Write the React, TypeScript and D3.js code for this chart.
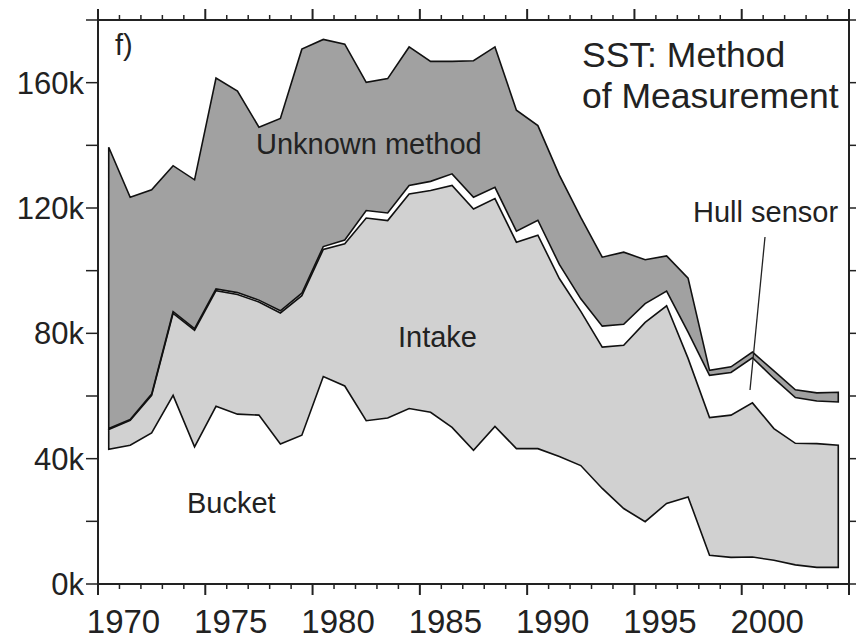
import React from 'react';
import * as d3 from 'd3';

// Years (each value plotted at the middle of its year)
const years = [1970, 1971, 1972, 1973, 1974, 1975, 1976, 1977, 1978, 1979, 1980, 1981, 1982, 1983, 1984, 1985, 1986, 1987, 1988, 1989, 1990, 1991, 1992, 1993, 1994, 1995, 1996, 1997, 1998, 1999, 2000, 2001, 2002, 2003, 2004];

// Number of observations (thousands) by method
const bucket = [43.0, 44.3, 48.2, 60.2, 43.8, 56.7, 54.2, 53.9, 44.7, 47.5, 66.2, 63.2, 52.1, 53.0, 56.0, 54.8, 50.0, 42.7, 50.3, 43.2, 43.2, 40.7, 37.8, 30.5, 24.1, 19.9, 25.7, 27.8, 9.2, 8.5, 8.6, 7.6, 6.1, 5.3, 5.3];
const intake = [6.3, 7.9, 12.0, 26.2, 37.2, 36.9, 38.2, 36.1, 41.8, 44.5, 40.6, 45.4, 64.7, 63.0, 68.5, 70.8, 77.2, 77.0, 72.7, 65.9, 68.1, 56.8, 49.2, 45.1, 52.1, 63.6, 63.1, 44.2, 43.9, 45.4, 49.2, 42.0, 38.8, 39.5, 39.0];
const hull = [0.3, 0.3, 0.4, 0.5, 0.5, 0.6, 0.6, 0.6, 0.7, 0.8, 0.9, 1.2, 2.4, 2.4, 2.7, 2.9, 3.7, 3.7, 3.6, 3.5, 4.8, 4.5, 4.0, 6.7, 6.7, 6.0, 4.7, 8.4, 13.5, 13.6, 14.4, 16.0, 14.6, 13.6, 13.8];
const unknown = [89.8, 70.9, 65.2, 46.6, 47.5, 67.3, 64.3, 55.2, 61.4, 77.9, 66.1, 62.5, 40.9, 42.9, 44.2, 38.3, 35.9, 43.6, 44.8, 38.6, 30.2, 28.5, 26.0, 22.0, 23.0, 14.0, 11.2, 17.2, 1.6, 1.8, 1.8, 2.4, 2.5, 2.6, 3.1];

const yTickLabels = [0, 40, 80, 120, 160];
const yTicksAll = [0, 20, 40, 60, 80, 100, 120, 140, 160, 180];
const xTickLabels = [1970, 1975, 1980, 1985, 1990, 1995, 2000];

const FONT = "'Liberation Sans', Arial, Helvetica, sans-serif";

export default function App() {
  const W = 856, H = 639;
  const left = 98, right = 849, top = 20, bottom = 584;
  const x = d3.scaleLinear().domain([1970, 2005]).range([left, right]);
  const y = d3.scaleLinear().domain([0, 180]).range([bottom, top]);

  const rows = years.map((yr, i) => ({ year: yr, bucket: bucket[i], intake: intake[i], hull: hull[i], unknown: unknown[i] }));
  const keys = ['bucket', 'intake', 'hull', 'unknown'];
  const series = d3.stack<any>().keys(keys)(rows);
  const area = d3.area<any>()
    .x((d: any) => x(d.data.year + 0.5))
    .y0((d: any) => y(d[0]))
    .y1((d: any) => y(d[1]));

  const fills: Record<string, string> = { bucket: '#ffffff', intake: '#d1d1d1', hull: '#ffffff', unknown: '#a1a1a1' };
  const stroked: Record<string, boolean> = { bucket: false, intake: true, hull: false, unknown: true };

  const minorYears = d3.range(1970, 2006);

  return (
    <svg width={W} height={H} style={{ position: 'absolute', left: 0, top: 0, background: '#fff' }} fontFamily={FONT}>
      <rect x={0} y={0} width={W} height={H} fill="#fff" />
      {series.map((s: any) => (
        <path key={'f' + s.key} d={area(s) || ''} fill={fills[s.key]} stroke="none" />
      ))}
      {series.filter((s: any) => stroked[s.key]).map((s: any) => (
        <path key={'s' + s.key} d={area(s) || ''} fill="none" stroke="#111" strokeWidth={1.6} strokeLinejoin="miter" />
      ))}

      {/* frame */}
      <rect x={left} y={top} width={right - left} height={bottom - top} fill="none" stroke="#222" strokeWidth={2} />

      {/* x ticks top & bottom */}
      {minorYears.map((yr) => {
        const major = yr % 5 === 0;
        const len = major ? 11 : 5;
        return (
          <g key={'xt' + yr}>
            <line x1={x(yr)} x2={x(yr)} y1={bottom} y2={bottom + len} stroke="#222" strokeWidth={major ? 2 : 1.5} />
            <line x1={x(yr)} x2={x(yr)} y1={top} y2={top - len} stroke="#222" strokeWidth={major ? 2 : 1.5} />
          </g>
        );
      })}
      {/* y ticks left & right */}
      {yTicksAll.map((v) => (
        <g key={'yt' + v}>
          <line x1={left} x2={left - 12} y1={y(v)} y2={y(v)} stroke="#222" strokeWidth={1.5} />
          <line x1={right} x2={right + 10} y1={y(v)} y2={y(v)} stroke="#222" strokeWidth={1.5} />
        </g>
      ))}
      {yTickLabels.map((v) => (
        <text key={'yl' + v} x={left - 14} y={y(v) + 11} textAnchor="end" fontSize={31} fill="#222">{v + 'k'}</text>
      ))}
      {xTickLabels.map((t) => (
        <text key={'xl' + t} x={x(t) + 25.5} y={633} textAnchor="middle" fontSize={33} fill="#222">{t}</text>
      ))}

      {/* annotations */}
      <text x={115} y={55} fontSize={29} fill="#222">f)</text>
      <text x={582} y={67} fontSize={35.5} fill="#222">SST: Method</text>
      <text x={582} y={108} fontSize={35.5} fill="#222">of Measurement</text>
      <text x={256} y={154} fontSize={29} fill="#222">Unknown method</text>
      <text x={398} y={347} fontSize={29} fill="#222">Intake</text>
      <text x={187} y={513} fontSize={29} fill="#222">Bucket</text>
      <text x={693} y={222} fontSize={29} fill="#222">Hull sensor</text>
      <line x1={765} y1={237} x2={750} y2={390} stroke="#222" strokeWidth={1.3} />
    </svg>
  );
}
